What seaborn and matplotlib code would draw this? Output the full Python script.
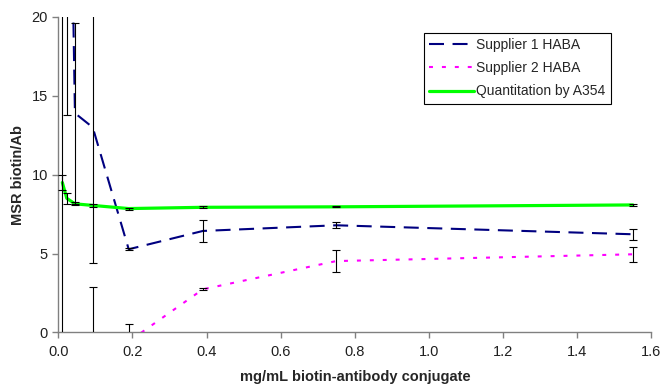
import numpy as np
import pandas as pd
import seaborn as sns
import matplotlib.pyplot as plt
from matplotlib import font_manager

# dados
conc = [0.011, 0.023, 0.045, 0.093, 0.19, 0.39, 0.75, 1.55]

sup1 = [80.0, 45.0, 13.9, 13.0, 5.27, 6.43, 6.79, 6.22]
sup1_err = [85.0, 31.2, 5.75, 8.6, 0.06, 0.69, 0.19, 0.34]

sup2 = [-40.0, -20.0, -12.0, -6.0, -0.58, 2.73, 4.52, 4.95]
sup2_err = [3.0, 3.0, 3.0, 8.9, 1.11, 0.07, 0.71, 0.46]

a354 = [9.5, 8.5, 8.15, 8.05, 7.85, 7.93, 7.96, 8.08]
a354_err = [0.45, 0.35, 0.1, 0.1, 0.06, 0.07, 0.04, 0.04]

nomes = ["Supplier 1 HABA", "Supplier 2 HABA", "Quantitation by A354"]
cores = ["#000080", "#FF00FF", "#00FF00"]

sns.set_style("white")
nomes_fontes = {f.name for f in font_manager.fontManager.ttflist}
if "Liberation Sans Narrow" in nomes_fontes:
    plt.rcParams["font.family"] = ["Liberation Sans Narrow", "DejaVu Sans"]
else:
    plt.rcParams["font.family"] = ["Liberation Sans", "DejaVu Sans"]

dados = pd.DataFrame({
    "conc": conc * 3,
    "msr": sup1 + sup2 + a354,
    "serie": [nomes[0]] * 8 + [nomes[1]] * 8 + [nomes[2]] * 8,
})
erros = {nomes[0]: sup1_err, nomes[1]: sup2_err, nomes[2]: a354_err}

fig = plt.figure(figsize=(6.62, 3.86), dpi=100)
ax = fig.add_axes([0.088, 0.139, 0.896, 0.817])

estilos = [(0, (7.2, 4.1)), (0, (1.9, 4.3)), "-"]
larguras = [1.5, 1.5, 2.3]
for nome, cor, ls, lw in zip(nomes, cores, estilos, larguras):
    sub = dados[dados["serie"] == nome]
    sns.lineplot(x="conc", y="msr", data=sub, ax=ax, color=cor, linestyle=ls,
                 linewidth=lw, label=nome, errorbar=None, zorder=2)

# barras de erro
for nome in nomes:
    sub = dados[dados["serie"] == nome]
    ax.errorbar(sub["conc"], sub["msr"], yerr=erros[nome], fmt="none",
                ecolor="black", elinewidth=0.8, capsize=3, capthick=0.8, zorder=3)

ax.set_xlim(0, 1.6)
ax.set_ylim(0, 20)
ax.set_xticks(np.arange(0, 1.61, 0.2))
ax.set_xticklabels([f"{t:.1f}" for t in np.arange(0, 1.61, 0.2)])
ax.set_yticks([0, 5, 10, 15, 20])

for lado in ["top", "right"]:
    ax.spines[lado].set_visible(False)
for lado in ["left", "bottom"]:
    ax.spines[lado].set_color("#808080")
    ax.spines[lado].set_linewidth(1.0)
ax.tick_params(axis="both", which="major", direction="out", length=4, width=1,
               color="#808080", labelsize=10.5, labelcolor="#202020", bottom=True, left=True)
ax.tick_params(axis="x", pad=5)

ax.set_xlabel("mg/mL biotin-antibody conjugate", fontsize=10.5, fontweight="bold", labelpad=8)
ax.set_ylabel("MSR biotin/Ab", fontsize=10.5, fontweight="bold", labelpad=5)

leg = ax.legend(loc="upper left", bbox_to_anchor=(0.616, 0.95), fontsize=10,
                frameon=True, fancybox=False, framealpha=1, edgecolor="black",
                handlelength=3.2, handletextpad=0.2, borderpad=0.4, labelspacing=0.65,
                borderaxespad=0)
leg.get_frame().set_linewidth(0.8)

plt.savefig("out.png", dpi=100)
